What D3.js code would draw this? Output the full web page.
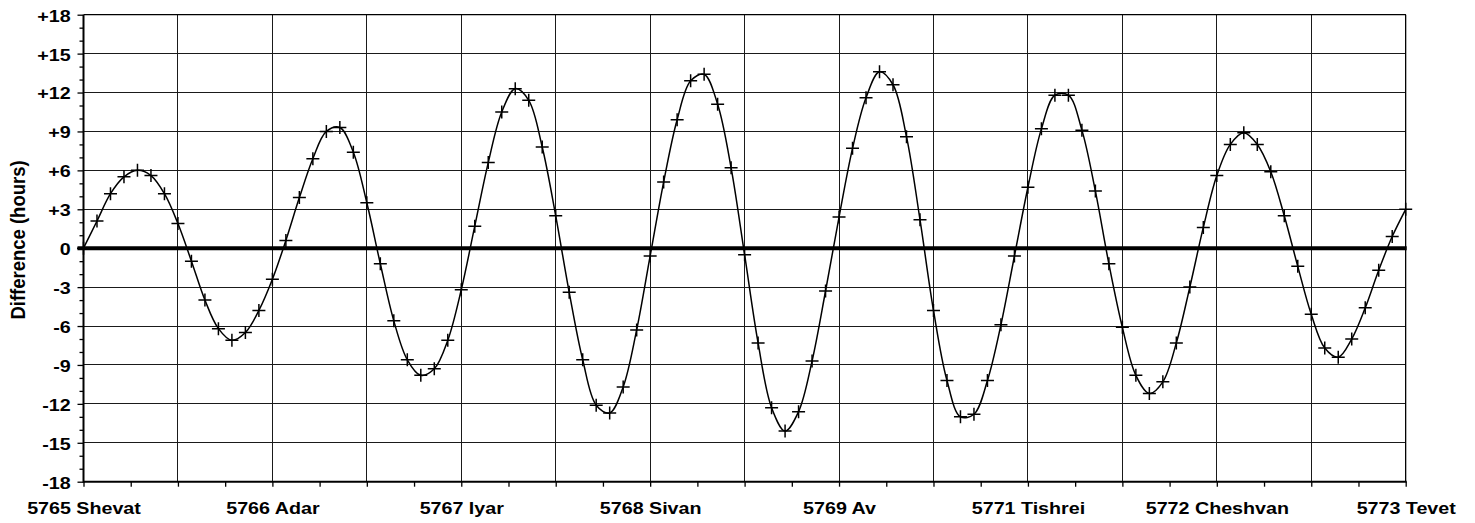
<!DOCTYPE html>
<html>
<head>
<meta charset="utf-8">
<script src="https://cdn.jsdelivr.net/npm/d3@7"></script>
<style>
  html, body { margin: 0; padding: 0; background: #fff; }
  svg { display: block; }
  text { font-family: "Liberation Sans", Arial, sans-serif; font-weight: bold; fill: #000; }
</style>
</head>
<body>
<svg id="chart" width="1475" height="523"></svg>
<script>
'use strict';

// difference in hours, one value per month
const diffs = [
  0.0, 2.1, 4.2, 5.5, 6.0, 5.6, 4.2, 1.9, -1.0, -4.0,
  -6.2, -7.1, -6.5, -4.8, -2.4, 0.6, 3.9, 6.9, 9.0, 9.3,
  7.4, 3.5, -1.2, -5.6, -8.6, -9.8, -9.3, -7.1, -3.2, 1.7,
  6.6, 10.5, 12.3, 11.4, 7.8, 2.5, -3.4, -8.6, -12.1, -12.7,
  -10.7, -6.3, -0.6, 5.1, 9.9, 12.9, 13.4, 11.1, 6.2, -0.5,
  -7.3, -12.3, -14.1, -12.6, -8.7, -3.3, 2.4, 7.7, 11.6, 13.6,
  12.6, 8.6, 2.2, -4.8, -10.2, -13.0, -12.8, -10.2, -5.9, -0.6,
  4.7, 9.2, 11.8, 11.8, 9.1, 4.4, -1.2, -6.1, -9.8, -11.2,
  -10.3, -7.3, -3.0, 1.6, 5.6, 8.0, 8.9, 8.0, 5.9, 2.5,
  -1.4, -5.1, -7.7, -8.4, -7.0, -4.6, -1.7, 0.9, 3.0
];

const monthLabels = [
  '5765 Shevat', '5766 Adar', '5767 Iyar', '5768 Sivan',
  '5769 Av', '5771 Tishrei', '5772 Cheshvan', '5773 Tevet'
];

const yTicks = [-18, -15, -12, -9, -6, -3, 0, 3, 6, 9, 12, 15, 18];

const SX = 1.23;   // text in the original is stretched sideways

const svg = d3.select('#chart');
const margin = { top: 14.7, right: 69.3, bottom: 41.3, left: 83.5 };
const width = 1475, height = 523;

const labelStep = (diffs.length - 1) / (monthLabels.length - 1); // 14 months
const gridStep = labelStep / 2;

const x = d3.scaleLinear()
  .domain([0, diffs.length - 1])
  .range([margin.left, width - margin.right]);

const y = d3.scaleLinear()
  .domain([d3.min(yTicks), d3.max(yTicks)])
  .range([height - margin.bottom, margin.top]);

const data = diffs.map((d, i) => ({ m: i, v: d }));

// grid
const grid = svg.append('g')
  .attr('stroke', '#1a1a1a')
  .attr('stroke-width', 1)
  .attr('shape-rendering', 'crispEdges');

grid.selectAll('line.h')
  .data(yTicks)
  .enter().append('line')
  .attr('class', 'h')
  .attr('x1', x.range()[0])
  .attr('x2', x.range()[1])
  .attr('y1', d => y(d))
  .attr('y2', d => y(d));

grid.selectAll('line.v')
  .data(d3.range(0, diffs.length, gridStep))
  .enter().append('line')
  .attr('class', 'v')
  .attr('x1', d => x(d))
  .attr('x2', d => x(d))
  .attr('y1', y.range()[0])
  .attr('y2', y.range()[1]);

// zero line
svg.append('line')
  .attr('x1', x.range()[0] - 6)
  .attr('x2', x.range()[1] + 1)
  .attr('y1', y(0))
  .attr('y2', y(0))
  .attr('stroke', '#000')
  .attr('stroke-width', 4);

// smoothed curve
const line = d3.line()
  .x(d => x(d.m))
  .y(d => y(d.v))
  .curve(d3.curveCatmullRom.alpha(0.5));

svg.append('path')
  .datum(data)
  .attr('d', line)
  .attr('fill', 'none')
  .attr('stroke', '#000')
  .attr('stroke-width', 1.5);

// plus markers
const mk = 6.5;
svg.append('g')
  .selectAll('path')
  .data(data)
  .enter().append('path')
  .attr('d', d => {
    const cx = x(d.m), cy = y(d.v);
    return `M${cx - mk},${cy}H${cx + mk}M${cx},${cy - mk}V${cy + mk}`;
  })
  .attr('fill', 'none')
  .attr('stroke', '#000')
  .attr('stroke-width', 1.5);

// y axis
const yMinor = svg.append('g')
  .attr('transform', `translate(${margin.left},0)`)
  .call(d3.axisLeft(y)
    .tickValues(d3.range(-18, 19, 1).filter(d => d % 3 !== 0))
    .tickSize(4)
    .tickSizeOuter(0)
    .tickFormat(''));
yMinor.select('.domain').remove();

const yAxis = svg.append('g')
  .attr('transform', `translate(${margin.left},0)`)
  .call(d3.axisLeft(y)
    .tickValues(yTicks)
    .tickSize(6)
    .tickSizeOuter(0)
    .tickPadding(6.85)
    .tickFormat(d => d > 0 ? '+' + d : String(d)));
yAxis.select('.domain').remove();
yAxis.selectAll('text')
  .attr('font-size', 16)
  .attr('x', -12.85 / SX)
  .attr('dy', '0.4em')
  .attr('transform', `scale(${SX},1)`);

// x axis
const xAxis = svg.append('g')
  .attr('transform', `translate(0,${height - margin.bottom})`)
  .call(d3.axisBottom(x)
    .tickValues(d3.range(0, diffs.length, gridStep / 2))
    .tickSize(5)
    .tickSizeOuter(0)
    .tickPadding(16.3)
    .tickFormat(d => d % labelStep === 0 ? monthLabels[d / labelStep] : ''));
xAxis.select('.domain').remove();
xAxis.selectAll('text')
  .attr('font-size', 16)
  .attr('transform', `scale(${SX},1)`);

svg.selectAll('.tick line').attr('stroke-width', 1.3);
svg.selectAll('.tick text').attr('font-family', null);

// frame
svg.append('line')
  .attr('x1', x.range()[0]).attr('x2', x.range()[1] + 1)
  .attr('y1', y.range()[0]).attr('y2', y.range()[0])
  .attr('stroke', '#000').attr('stroke-width', 2);
svg.append('line')
  .attr('x1', x.range()[0]).attr('x2', x.range()[0])
  .attr('y1', y.range()[1]).attr('y2', y.range()[0] + 1)
  .attr('stroke', '#000').attr('stroke-width', 2);
svg.append('line')
  .attr('x1', x.range()[0]).attr('x2', x.range()[1])
  .attr('y1', y.range()[1]).attr('y2', y.range()[1])
  .attr('stroke', '#000').attr('stroke-width', 1.2);
svg.append('line')
  .attr('x1', x.range()[1]).attr('x2', x.range()[1])
  .attr('y1', y.range()[1]).attr('y2', y.range()[0])
  .attr('stroke', '#000').attr('stroke-width', 1.2);

// axis title
svg.append('text')
  .attr('transform', `translate(24.5,240) scale(1.12,1) rotate(-90)`)
  .attr('text-anchor', 'middle')
  .attr('font-size', 18.5)
  .text('Difference (hours)');
</script>
</body>
</html>
